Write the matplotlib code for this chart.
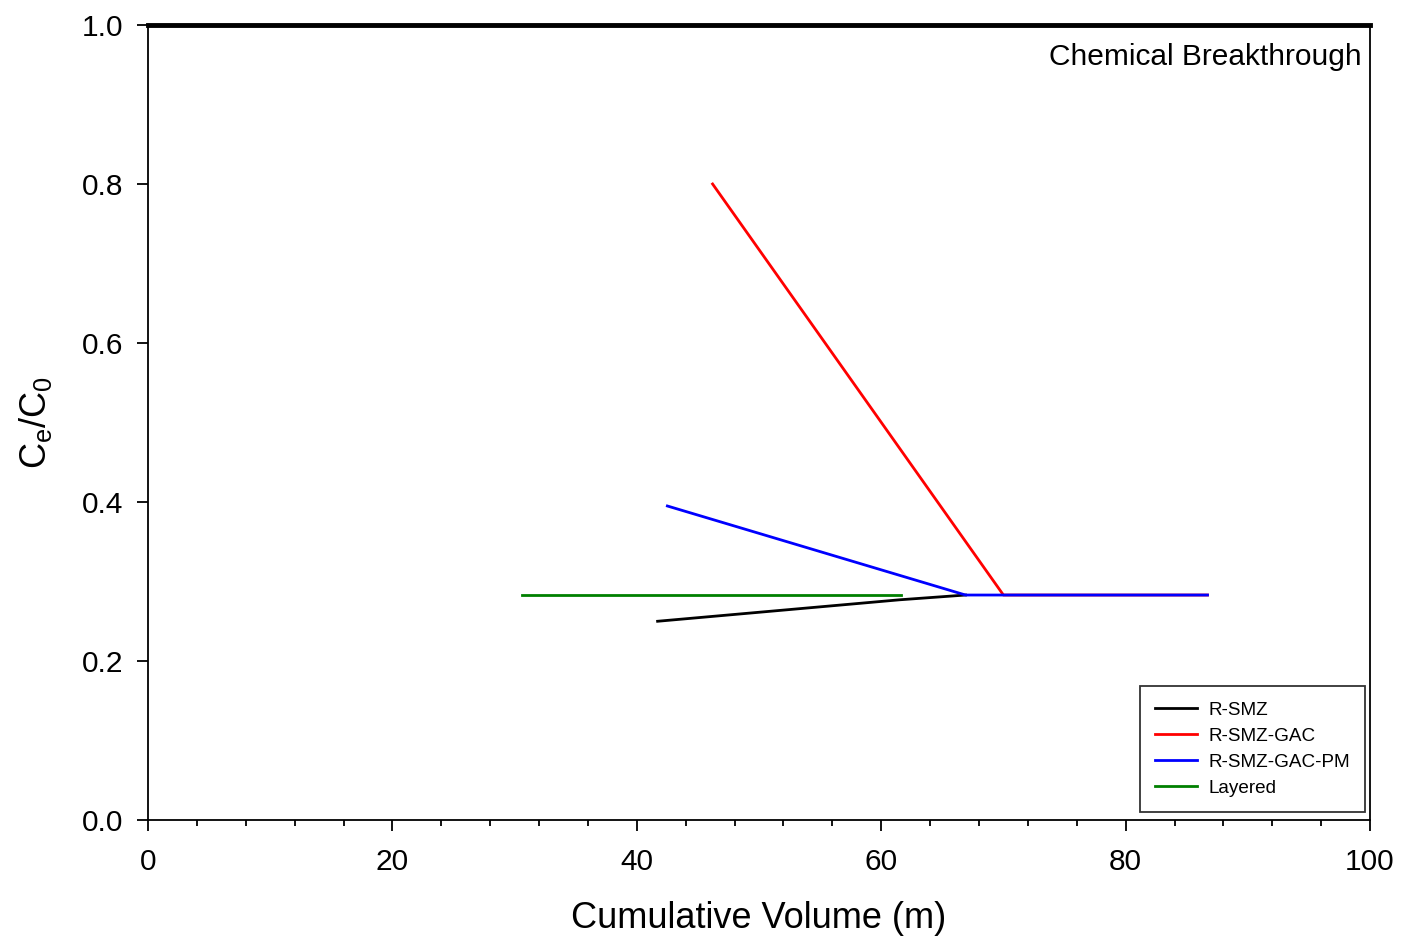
"""Chemical breakthrough curves for the four filter media."""
import matplotlib
matplotlib.use("Agg")
import matplotlib.pyplot as plt
from matplotlib.ticker import MultipleLocator

plt.rcParams["font.family"] = ["Liberation Sans", "DejaVu Sans"]
plt.rcParams["mathtext.fontset"] = "custom"
plt.rcParams["mathtext.rm"] = "Liberation Sans"
plt.rcParams["mathtext.it"] = "Liberation Sans"

# data
rsmz_x = [41.7, 61.5, 66.9]
rsmz_y = [0.250, 0.277, 0.283]

gac_x = [46.2, 70.0, 86.7]
gac_y = [0.800, 0.283, 0.283]

gacpm_x = [42.5, 66.9, 86.7]
gacpm_y = [0.395, 0.283, 0.283]

layered_x = [30.6, 61.6]
layered_y = [0.283, 0.283]

series = [
    ("R-SMZ", rsmz_x, rsmz_y, "black"),
    ("R-SMZ-GAC", gac_x, gac_y, "#ff0000"),
    ("R-SMZ-GAC-PM", gacpm_x, gacpm_y, "#0000ff"),
    ("Layered", layered_x, layered_y, "#008000"),
]

fig = plt.figure(figsize=(14.03, 9.39), dpi=100)
ax = fig.add_axes([0.1055, 0.1267, 0.871, 0.8467])

for label, xs, ys, c in series:
    ax.plot(xs, ys, color=c, linewidth=2, label=label)

ax.set_xlim(0, 100)
ax.set_ylim(0, 1.0)
ax.xaxis.set_major_locator(MultipleLocator(20))
ax.xaxis.set_minor_locator(MultipleLocator(4))
ax.yaxis.set_major_locator(MultipleLocator(0.2))
ax.yaxis.set_major_formatter(matplotlib.ticker.FormatStrFormatter("%.1f"))

ax.tick_params(axis="both", which="major", direction="out", length=8, width=1.3,
               labelsize=21.5)
ax.tick_params(axis="x", which="major", pad=12)
ax.tick_params(axis="y", which="major", pad=10)
ax.tick_params(axis="x", which="minor", direction="out", length=4.5, width=1.3)
for s in ["left", "bottom", "right"]:
    ax.spines[s].set_linewidth(1.3)
ax.spines["top"].set_linewidth(3.5)

ax.set_xlabel("Cumulative Volume (m)", fontsize=26, labelpad=18)
ax.set_ylabel(r"C$_\mathrm{e}$/C$_\mathrm{0}$", fontsize=26, labelpad=20)

ax.text(0.9935, 0.977, "Chemical Breakthrough", transform=ax.transAxes,
        fontsize=21.5, ha="right", va="top")

leg = ax.legend(loc="lower right", fontsize=13.6, frameon=True, fancybox=False,
                edgecolor="black", handlelength=2.2, handletextpad=0.6,
                borderpad=0.8, labelspacing=0.47, borderaxespad=0,
                bbox_to_anchor=(0.9959, 0.01))
leg.get_frame().set_linewidth(1.3)

fig.savefig("out.png", dpi=100)
